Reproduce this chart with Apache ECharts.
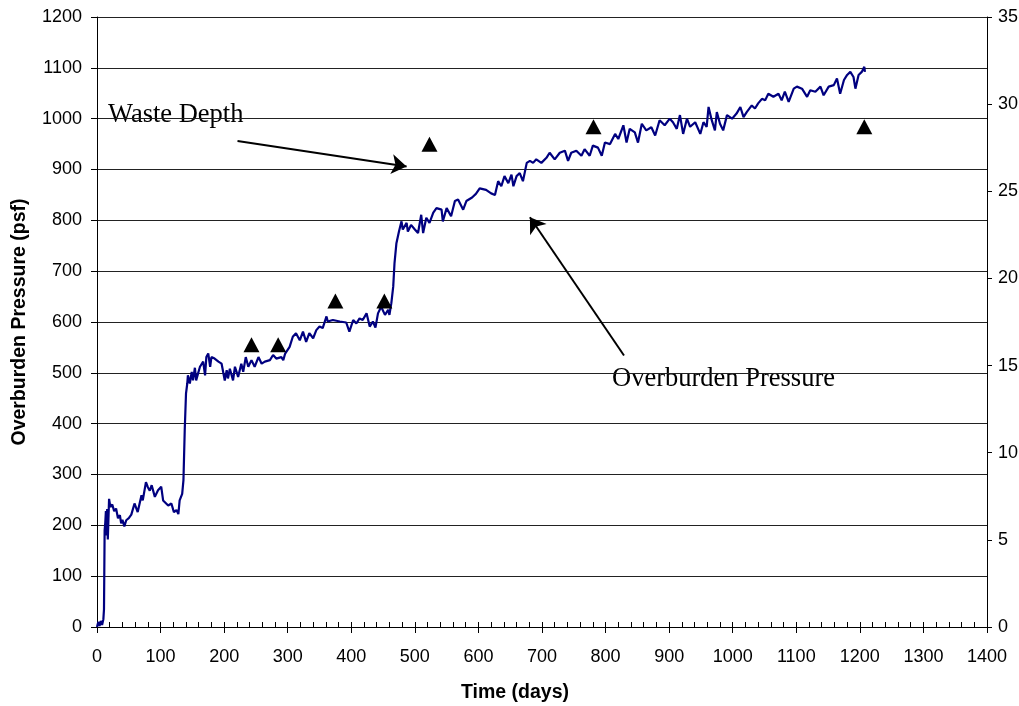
<!DOCTYPE html>
<html><head><meta charset="utf-8">
<script src="https://cdn.jsdelivr.net/npm/echarts@6/dist/echarts.min.js"></script>
<style>html,body{margin:0;padding:0;background:#fff}#c{width:1019px;height:706px}</style>
</head><body><div id="c"></div>
<script>
// Overburden pressure trace (days, psf)
const days = [0,2,4,6,8,10,11,12,13,14,15,16,17,18,19,21,24,27,30,33,36,38,40,43,46,50,54,59,64,70,72,77,80,83,86,91,96,101,104,107,112,117,121,125,128,130,134,136,138,140,142,143,146,149,151,154,156,159,162,167,170,172,175,178,180,185,191,196,201,204,206,209,214,217,222,227,230,234,238,243,248,254,259,264,272,277,282,290,293,296,
303,308,313,319,324,329,334,340,345,350,355,361,363,371,382,392,397,403,408,413,418,424,429,434,438,442,447,453,458,460,463,466,468,471,475,479,481,487,489,494,500,505,510,513,518,523,529,534,542,544,550,557,563,568,576,581,590,596,
602,612,620,626,631,636,641,647,652,655,660,665,670,676,681,686,691,699,707,712,720,728,736,741,746,754,762,767,775,780,788,794,799,807,815,820,828,833,838,846,851,857,864,872,878,885,893,901,
906,912,917,922,928,933,941,949,954,959,962,967,972,975,980,985,991,999,1006,1012,1017,1022,1030,1035,1040,1046,1051,1056,1064,1072,1077,1082,1088,1096,1101,1109,1117,1122,1130,1138,1143,1151,1159,1164,1169,1175,1180,1185,1190,1193,1198,1203,1207,1208];
const pressure = [0,10,2,12,4,15,35,190,205,228,180,232,172,212,252,236,241,228,233,214,220,204,211,198,210,214,221,243,226,259,249,285,275,268,279,256,269,276,249,246,239,243,226,230,222,249,262,289,387,459,479,495,479,502,485,510,485,499,512,522,495,531,538,512,531,528,522,518,485,505,489,508,485,512,492,518,502,531,512,525,512,531,518,522,525,535,528,531,525,538,
551,571,578,564,581,561,578,568,584,591,588,611,601,604,601,599,581,604,597,607,604,617,591,601,589,617,630,614,624,614,637,670,716,755,778,798,782,795,778,791,782,775,811,775,805,795,815,824,821,798,824,808,838,841,821,838,845,852,
863,860,853,850,877,867,887,873,890,867,887,893,877,913,917,913,920,913,923,933,920,933,937,917,933,937,927,940,927,947,943,927,953,950,970,960,987,953,980,973,953,990,977,983,967,997,987,1000,
993,980,1007,970,1000,984,993,970,993,984,1023,997,977,1013,990,977,1007,1000,1010,1023,1003,1013,1026,1020,1030,1039,1036,1049,1043,1049,1036,1053,1033,1059,1063,1059,1043,1056,1053,1063,1046,1063,1066,1079,1049,1076,1086,1092,1082,1059,1086,1092,1102,1092];
// Waste depth markers (days, right axis)
const depthDays = [243,285,375,452,523,781,1207];
const depthValues = [16.2,16.2,18.7,18.7,27.7,28.7,28.7];
// Annotation arrows in data coordinates [day, psf]
const wasteArrow = [[221,956],[487,906]];
const pressureArrow = [[829,534],[681,806]];

const FONT = 'Liberation Sans';
const plain = v => String(v);
const chart = echarts.init(document.getElementById('c'));
chart.setOption({
  animation: false,
  backgroundColor: '#fff',
  grid: {left: 97, right: 32, top: 17, bottom: 79, containLabel: false, outerBoundsMode: 'none'},
  xAxis: [{
    type: 'value', min: 0, max: 1400, interval: 100,
    name: 'Time (days)', nameLocation: 'middle', nameGap: 56,
    nameTextStyle: {fontFamily: FONT, fontWeight: 'bold', fontSize: 19.5, color: '#000', padding: [0, 54, 0, 0]},
    axisLine: {show: true, onZero: false, lineStyle: {color: '#000', width: 1}},
    axisTick: {show: true, length: 6, lineStyle: {color: '#000'}},
    axisLabel: {fontFamily: FONT, fontSize: 18, color: '#000', margin: 21, formatter: plain},
    splitLine: {show: false}
  }, {
    type: 'value', min: 0, max: 1400, interval: 20, position: 'bottom',
    axisLine: {show: false, onZero: false},
    axisTick: {show: true, inside: true, length: 5, lineStyle: {color: '#000'}},
    axisLabel: {show: false}, splitLine: {show: false}
  }],
  yAxis: [{
    type: 'value', min: 0, max: 1200, interval: 100, position: 'left',
    name: 'Overburden Pressure (psf)', nameLocation: 'middle', nameGap: 67, nameRotate: 90,
    nameTextStyle: {fontFamily: FONT, fontWeight: 'bold', fontSize: 19.5, color: '#000'},
    axisLine: {show: true, onZero: false, lineStyle: {color: '#000', width: 1}},
    axisTick: {show: true, length: 6, lineStyle: {color: '#000'}},
    axisLabel: {fontFamily: FONT, fontSize: 18, color: '#000', margin: 15, formatter: plain},
    splitLine: {show: true, lineStyle: {color: '#222', width: 1}}
  }, {
    type: 'value', min: 0, max: 35, interval: 5, position: 'right',
    axisLine: {show: true, onZero: false, lineStyle: {color: '#000', width: 1}},
    axisTick: {show: true, length: 5, lineStyle: {color: '#000'}},
    axisLabel: {fontFamily: FONT, fontSize: 18, color: '#000', margin: 11, formatter: plain},
    splitLine: {show: false}
  }],
  series: [{
    type: 'line',
    data: days.map((d, i) => [d, pressure[i]]),
    symbol: 'none', showSymbol: false,
    lineStyle: {color: '#000080', width: 2.2},
    z: 3,
    markLine: {
      silent: true, animation: false,
      symbol: ['none', 'arrow'], symbolSize: 15,
      label: {show: false},
      lineStyle: {color: '#000', width: 2, type: 'solid'},
      emphasis: {disabled: true},
      data: [
        [{coord: wasteArrow[0]}, {coord: wasteArrow[1]}],
        [{coord: pressureArrow[0]}, {coord: pressureArrow[1]}]
      ]
    }
  }, {
    type: 'scatter', yAxisIndex: 1,
    data: depthDays.map((d, i) => [d, depthValues[i]]),
    symbol: 'triangle', symbolSize: [16, 15],
    itemStyle: {color: '#000', opacity: 1}, z: 4
  }],
  graphic: [{
    type: 'text', x: 108, y: 115.5,
    style: {text: 'Waste Depth', fontFamily: 'Liberation Serif', fontSize: 26.5, fill: '#000', verticalAlign: 'middle'}
  }, {
    type: 'text', x: 612, y: 379,
    style: {text: 'Overburden Pressure', fontFamily: 'Liberation Serif', fontSize: 26.5, fill: '#000', verticalAlign: 'middle'}
  }]
});
</script></body></html>
